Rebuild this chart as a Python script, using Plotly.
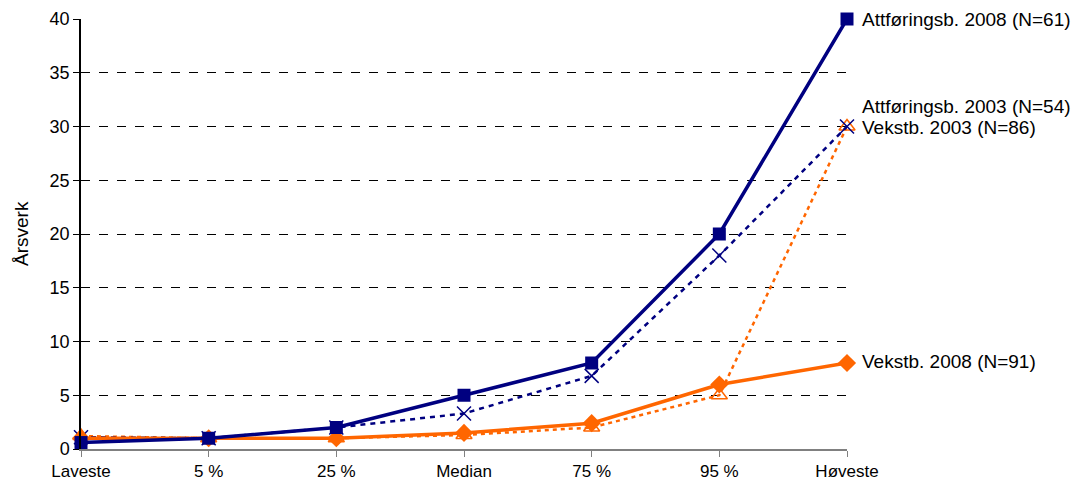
import plotly.graph_objects as go

categories = ["Laveste", "5 %", "25 %", "Median", "75 %", "95 %", "Høveste"]
x_pos = list(range(len(categories)))

attf_2008 = [0.6, 1.0, 2.0, 5.0, 8.0, 20.0, 40.0]
attf_2003 = [1.1, 1.0, 2.0, 3.3, 6.8, 18.0, 30.0]
vekst_2008 = [1.0, 1.0, 1.0, 1.5, 2.4, 6.0, 8.0]
vekst_2003 = [1.2, 1.0, 1.0, 1.3, 2.0, 5.0, 30.0]

y_ticks = [0, 5, 10, 15, 20, 25, 30, 35, 40]

NAVY = "#000080"
ORANGE = "#FF6600"
FONT = "Liberation Sans, Arial, sans-serif"

fig = go.Figure()

# dotted 2003 series drawn first, solid 2008 series on top
fig.add_trace(go.Scatter(
    x=x_pos, y=vekst_2003, mode="lines+markers", name="Vekstb. 2003 (N=86)",
    line=dict(color=ORANGE, width=2.5, dash="4px,4px"),
    marker=dict(symbol="triangle-up-open", size=14, color=ORANGE, line=dict(width=1.5, color=ORANGE)),
    cliponaxis=False,
))
fig.add_trace(go.Scatter(
    x=x_pos, y=attf_2003, mode="lines+markers", name="Attføringsb. 2003 (N=54)",
    line=dict(color=NAVY, width=2.5, dash="5px,5px"),
    marker=dict(symbol="x-thin-open", size=14, color=NAVY, line=dict(width=1.5, color=NAVY)),
    cliponaxis=False,
))
fig.add_trace(go.Scatter(
    x=x_pos, y=vekst_2008, mode="lines+markers", name="Vekstb. 2008 (N=91)",
    line=dict(color=ORANGE, width=3.5),
    marker=dict(symbol="diamond", size=14, color=ORANGE),
    cliponaxis=False,
))
fig.add_trace(go.Scatter(
    x=x_pos, y=attf_2008, mode="lines+markers", name="Attføringsb. 2008 (N=61)",
    line=dict(color=NAVY, width=3.5),
    marker=dict(symbol="square", size=13, color=NAVY),
    cliponaxis=False,
))

# series labels at the right end of each line
labels = [
    ("Attføringsb. 2008 (N=61)", attf_2008[-1], 0),
    ("Attføringsb. 2003 (N=54)", attf_2003[-1], 20),
    ("Vekstb. 2003 (N=86)", vekst_2003[-1], -1),
    ("Vekstb. 2008 (N=91)", vekst_2008[-1], 2),
]
for text, yv, ys in labels:
    fig.add_annotation(
        x=x_pos[-1], y=yv, xref="x", yref="y", text=text, showarrow=False,
        xanchor="left", yanchor="middle", xshift=13, yshift=ys,
        font=dict(family=FONT, size=19, color="#000000"),
    )

# y-axis title
fig.add_annotation(
    x=0, y=0.5, xref="paper", yref="paper", text="Årsverk", showarrow=False,
    textangle=-90, xanchor="center", yanchor="middle", xshift=-60,
    font=dict(family=FONT, size=19, color="#000000"),
)

fig.update_layout(
    width=1083, height=481,
    margin=dict(l=81, r=236, t=19, b=32),
    paper_bgcolor="white", plot_bgcolor="white",
    showlegend=False,
    font=dict(family=FONT, size=18, color="#000000"),
)
fig.update_xaxes(
    range=[0, 6], tickvals=x_pos, ticktext=categories,
    showgrid=False, zeroline=False, automargin=False,
    showline=True, linecolor="#808080", linewidth=1.5,
    ticks="outside", ticklen=6, tickcolor="#808080",
    tickfont=dict(size=17),
)
fig.update_yaxes(
    range=[0, 40], tickvals=y_ticks,
    showgrid=True, gridcolor="#000000", griddash="dash", gridwidth=1,
    zeroline=False, automargin=False,
    showline=True, linecolor="#000000", linewidth=1.5,
    ticks="outside", ticklen=6, tickcolor="#000000",
    tickfont=dict(size=18),
)

fig.write_html("out.html")
